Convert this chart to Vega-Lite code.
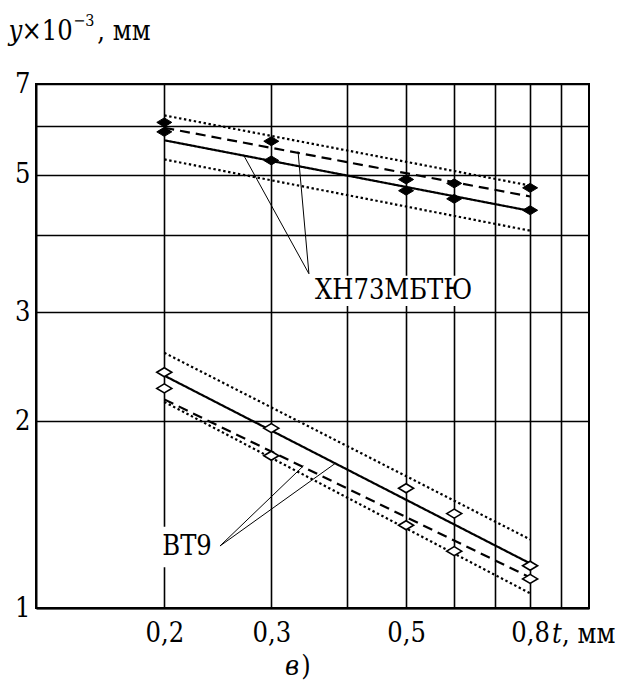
{
  "$schema": "https://vega.github.io/schema/vega-lite/v6.json",
  "width": 553,
  "height": 524,
  "autosize": {"type": "none"},
  "padding": {"left": 36, "top": 84, "right": 30, "bottom": 78},
  "background": "white",
  "config": {
    "font": "DejaVu Serif Condensed",
    "view": {"stroke": "black", "strokeWidth": 2},
    "axis": {
      "grid": true, "gridColor": "black", "gridWidth": 1.6, "gridOpacity": 1,
      "domain": true, "domainColor": "black", "domainWidth": 2,
      "ticks": false, "tickSize": 0,
      "labelFont": "DejaVu Serif Condensed", "labelFontSize": 27, "labelColor": "black",
      "labelOverlap": false, "labelFlush": false, "title": null
    }
  },
  "datasets": {
    "pts": [
      {"alloy": "ХН73МБТЮ", "t": 0.2, "y": 6.07},
      {"alloy": "ХН73МБТЮ", "t": 0.2, "y": 5.86},
      {"alloy": "ХН73МБТЮ", "t": 0.3, "y": 5.66},
      {"alloy": "ХН73МБТЮ", "t": 0.3, "y": 5.27},
      {"alloy": "ХН73МБТЮ", "t": 0.5, "y": 4.91},
      {"alloy": "ХН73МБТЮ", "t": 0.5, "y": 4.71},
      {"alloy": "ХН73МБТЮ", "t": 0.6, "y": 4.84},
      {"alloy": "ХН73МБТЮ", "t": 0.6, "y": 4.57},
      {"alloy": "ХН73МБТЮ", "t": 0.8, "y": 4.76},
      {"alloy": "ХН73МБТЮ", "t": 0.8, "y": 4.38},
      {"alloy": "ВТ9", "t": 0.2, "y": 2.40},
      {"alloy": "ВТ9", "t": 0.2, "y": 2.26},
      {"alloy": "ВТ9", "t": 0.3, "y": 1.95},
      {"alloy": "ВТ9", "t": 0.3, "y": 1.76},
      {"alloy": "ВТ9", "t": 0.5, "y": 1.56},
      {"alloy": "ВТ9", "t": 0.5, "y": 1.36},
      {"alloy": "ВТ9", "t": 0.6, "y": 1.42},
      {"alloy": "ВТ9", "t": 0.6, "y": 1.235},
      {"alloy": "ВТ9", "t": 0.8, "y": 1.17},
      {"alloy": "ВТ9", "t": 0.8, "y": 1.114}
    ],
    "lines": [
      {"series": "X-fit", "kind": "fit", "t": 0.2, "y": 5.68},
      {"series": "X-fit", "kind": "fit", "t": 0.8, "y": 4.37},
      {"series": "X-mean", "kind": "mean", "t": 0.2, "y": 5.95},
      {"series": "X-mean", "kind": "mean", "t": 0.8, "y": 4.61},
      {"series": "X-up", "kind": "bound", "t": 0.2, "y": 6.23},
      {"series": "X-up", "kind": "bound", "t": 0.8, "y": 4.80},
      {"series": "X-lo", "kind": "bound", "t": 0.2, "y": 5.29},
      {"series": "X-lo", "kind": "bound", "t": 0.8, "y": 4.06},
      {"series": "V-fit", "kind": "fit", "t": 0.2, "y": 2.37},
      {"series": "V-fit", "kind": "fit", "t": 0.8, "y": 1.18},
      {"series": "V-mean", "kind": "mean", "t": 0.2, "y": 2.17},
      {"series": "V-mean", "kind": "mean", "t": 0.8, "y": 1.12},
      {"series": "V-up", "kind": "bound", "t": 0.2, "y": 2.58},
      {"series": "V-up", "kind": "bound", "t": 0.8, "y": 1.29},
      {"series": "V-lo", "kind": "bound", "t": 0.2, "y": 2.15},
      {"series": "V-lo", "kind": "bound", "t": 0.8, "y": 1.056}
    ],
    "leaders": [
      {"id": "a", "t": 0.346, "y": 3.46},
      {"id": "a", "t": 0.270, "y": 5.38},
      {"id": "b", "t": 0.346, "y": 3.46},
      {"id": "b", "t": 0.332, "y": 5.45},
      {"id": "c", "t": 0.247, "y": 1.259},
      {"id": "c", "t": 0.339, "y": 1.696},
      {"id": "d", "t": 0.247, "y": 1.259},
      {"id": "d", "t": 0.382, "y": 1.71}
    ],
    "boxes": [
      {"t1": 0.35, "t2": 0.688, "y1": 3.07, "y2": 3.435},
      {"t1": 0.1955, "t2": 0.245, "y1": 1.163, "y2": 1.352}
    ]
  },
  "encoding": {
    "x": {"field": "t", "type": "quantitative",
      "scale": {"type": "log", "domain": [0.123, 1], "nice": false, "zero": false},
      "axis": {"values": [0.2, 0.3, 0.4, 0.5, 0.6, 0.7, 0.8, 0.9], "labelPadding": 12, "labelBaseline": "top",
        "labelExpr": "indexof([0.2, 0.3, 0.5, 0.8], datum.value) >= 0 ? replace(format(datum.value, '.1f'), '.', ',') : ''"}},
    "y": {"field": "y", "type": "quantitative",
      "scale": {"type": "log", "domain": [1, 7], "nice": false, "zero": false},
      "axis": {"values": [1, 2, 3, 4, 5, 6, 7], "labelPadding": 6, "labelBaseline": "middle",
        "labelExpr": "indexof([1, 2, 3, 5, 7], datum.value) >= 0 ? format(datum.value, 'd') : ''"}}
  },
  "layer": [
    {
      "data": {"name": "boxes"},
      "mark": {"type": "rect", "fill": "white", "stroke": null},
      "encoding": {
        "x": {"field": "t1", "type": "quantitative"},
        "x2": {"field": "t2"},
        "y": {"field": "y1", "type": "quantitative"},
        "y2": {"field": "y2"}
      }
    },
    {
      "data": {"name": "lines"},
      "mark": {"type": "line", "color": "black"},
      "encoding": {
        "detail": {"field": "series"},
        "strokeDash": {"field": "kind", "type": "nominal", "legend": null,
          "scale": {"domain": ["fit", "mean", "bound"], "range": [[1, 0], [10, 6], [2.4, 2.6]]}},
        "strokeWidth": {"field": "kind", "type": "nominal", "legend": null,
          "scale": {"domain": ["fit", "mean", "bound"], "range": [2.2, 2.2, 2.6]}}
      }
    },
    {
      "data": {"name": "leaders"},
      "mark": {"type": "line", "color": "black", "strokeWidth": 1},
      "encoding": {"detail": {"field": "id"}}
    },
    {
      "data": {"name": "pts"},
      "transform": [{"filter": "datum.alloy === 'ХН73МБТЮ'"}],
      "mark": {"type": "point", "shape": "M-1,0L0,-0.6L1,0L0,0.6Z", "size": 225, "filled": true, "fill": "black", "stroke": "black", "strokeWidth": 1, "opacity": 1}
    },
    {
      "data": {"name": "pts"},
      "transform": [{"filter": "datum.alloy === 'ВТ9'"}],
      "mark": {"type": "point", "shape": "M-1,0L0,-0.6L1,0L0,0.6Z", "size": 225, "filled": true, "fill": "white", "stroke": "black", "strokeWidth": 1.6, "opacity": 1}
    },
    {
      "data": {"values": [{"label": "ХН73МБТЮ", "t": 0.354, "y": 3.24}, {"label": "ВТ9", "t": 0.1985, "y": 1.254}]},
      "mark": {"type": "text", "align": "left", "baseline": "middle", "fontSize": 27, "color": "black"},
      "encoding": {"text": {"field": "label"}}
    },
    {
      "data": {"values": [{"label": "y", "t": 0.1108, "y": 8.245}, {"label": "t", "t": 0.869, "y": 0.878}, {"label": "в", "t": 0.316, "y": 0.78}]},
      "mark": {"type": "text", "align": "left", "baseline": "alphabetic", "fontSize": 27, "fontStyle": "italic", "color": "black"},
      "encoding": {"text": {"field": "label"}}
    },
    {
      "data": {"values": [{"label": "×10", "t": 0.1164, "y": 8.245}, {"label": ", мм", "t": 0.1552, "y": 8.245}, {"label": ", мм", "t": 0.903, "y": 0.878}, {"label": ")", "t": 0.336, "y": 0.78}]},
      "mark": {"type": "text", "align": "left", "baseline": "alphabetic", "fontSize": 27, "color": "black"},
      "encoding": {"text": {"field": "label"}}
    },
    {
      "data": {"values": [{"label": "−3", "t": 0.1416, "y": 8.69}]},
      "mark": {"type": "text", "align": "left", "baseline": "alphabetic", "fontSize": 16, "color": "black"},
      "encoding": {"text": {"field": "label"}}
    }
  ]
}
